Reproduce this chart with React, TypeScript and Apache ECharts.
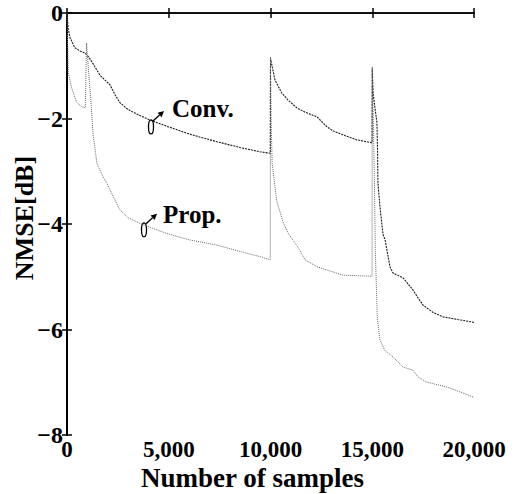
import React, { useEffect, useRef } from "react";
import * as echarts from "echarts";

const xTicks = [0, 5000, 10000, 15000, 20000];
const yTicks = [0, -2, -4, -6, -8];

const convCurve: [number, number][] = [
  [0, 0], [60, -0.3], [150, -0.47], [390, -0.66], [640, -0.72], [880, -0.76], [1000, -0.8],
  [1230, -0.93], [1620, -1.18], [2110, -1.36], [2360, -1.55], [2600, -1.7], [3000, -1.83],
  [3500, -1.93], [4080, -2.03], [5000, -2.16], [5900, -2.28], [6600, -2.36], [7370, -2.44],
  [8500, -2.55], [9480, -2.63], [9990, -2.66],
  [10000, -0.86], [10220, -1.27], [10560, -1.52], [10860, -1.65], [11300, -1.8], [11700, -1.88],
  [12290, -1.97], [12780, -2.16], [13100, -2.24], [13560, -2.31], [14200, -2.4], [14990, -2.46],
  [15000, -1.05], [15040, -1.52], [15230, -2.08], [15260, -2.6], [15280, -3.22], [15380, -3.68],
  [15530, -4.2], [15630, -4.3], [15720, -4.49], [15870, -4.81], [16020, -4.93], [16510, -5.02],
  [17000, -5.25], [17250, -5.4], [17500, -5.54], [18000, -5.68], [18480, -5.76], [19200, -5.81],
  [19950, -5.86], [20000, -5.87],
];

const propCurve: [number, number][] = [
  [0, 0], [30, -0.6], [60, -1.12], [230, -1.42], [470, -1.69], [700, -1.77], [900, -1.8],
  [960, -0.57], [1080, -1.2], [1180, -1.7], [1280, -2.3], [1470, -2.85], [1700, -3.05],
  [1960, -3.23], [2300, -3.5], [2600, -3.73], [3000, -3.88], [3590, -3.99], [4200, -4.08],
  [4910, -4.18], [6000, -4.3], [7370, -4.4], [8500, -4.52], [9500, -4.62], [9990, -4.68],
  [10000, -0.83], [10030, -2.0], [10080, -2.84], [10300, -3.55], [10610, -3.96], [10860, -4.17],
  [11350, -4.44], [11700, -4.68], [12290, -4.81], [13000, -4.9], [13560, -4.97], [14990, -4.99],
  [15000, -1.02], [15100, -3.0], [15150, -4.5], [15250, -5.8], [15380, -6.2], [15620, -6.4],
  [16020, -6.52], [16510, -6.71], [17000, -6.77], [17250, -6.9], [17690, -7.0], [18670, -7.09],
  [19300, -7.18], [19950, -7.28], [20000, -7.29],
];

const seriesNames = ["Conv.", "Prop."];
const annotationAnchors: [number, number][] = [[4128, -2.16], [3784, -4.11]];

const FONT = "Liberation Serif";

export default function App() {
  const ref = useRef<HTMLDivElement>(null);
  useEffect(() => {
    if (!ref.current) return;
    const chart = echarts.init(ref.current, null, { renderer: "svg" });
    const fmtX = (v: number) => v.toLocaleString("en-US");
    const fmtY = (v: number) => String(v).replace("-", "\u2212");
    const labelStyle = { fontFamily: FONT, fontWeight: "bold", fontSize: 23, color: "#000", lineHeight: 23 };
    const lineBase = { color: "#000", width: 1.5 };
    chart.setOption({
      animation: false,
      backgroundColor: "#fff",
      grid: { left: 67, right: 45, top: 13, bottom: 59, containLabel: false, outerBoundsMode: "none" },
      xAxis: [
        {
          type: "value", min: xTicks[0], max: xTicks[xTicks.length - 1], interval: 5000,
          position: "bottom",
          axisLine: { lineStyle: lineBase },
          axisTick: { inside: true, length: 5, lineStyle: lineBase },
          axisLabel: { ...labelStyle, margin: 3, formatter: fmtX },
          splitLine: { show: false },
          name: "Number of samples", nameLocation: "middle", nameGap: 29, nameMoveOverlap: false,
          nameTextStyle: { fontFamily: FONT, fontWeight: "bold", fontSize: 27, lineHeight: 27, color: "#000", padding: [0, 36, 0, 0] },
        },
        {
          type: "value", min: xTicks[0], max: xTicks[xTicks.length - 1], interval: 5000,
          position: "top",
          axisLine: { lineStyle: lineBase },
          axisTick: { inside: true, length: 5, lineStyle: lineBase },
          axisLabel: { show: false },
          splitLine: { show: false },
        },
      ],
      yAxis: [
        {
          type: "value", min: yTicks[yTicks.length - 1], max: yTicks[0], interval: 2,
          position: "left",
          axisLine: { lineStyle: { color: "#000", width: 2 } },
          axisTick: { inside: true, length: 5, lineStyle: lineBase },
          axisLabel: { ...labelStyle, fontSize: 24, margin: 4, formatter: fmtY },
          splitLine: { show: false },
          name: "NMSE[dB]", nameLocation: "middle", nameGap: 30, nameMoveOverlap: false,
          nameTextStyle: { fontFamily: FONT, fontWeight: "bold", fontSize: 26, color: "#000", padding: [0, 0, 0, 12] },
        },
        {
          type: "value", min: yTicks[yTicks.length - 1], max: yTicks[0], interval: 2,
          position: "right",
          axisLine: { lineStyle: lineBase },
          axisTick: { inside: true, length: 5, lineStyle: lineBase },
          axisLabel: { show: false },
          splitLine: { show: false },
        },
      ],
      series: [
        {
          name: seriesNames[0], type: "line", data: convCurve, showSymbol: false,
          xAxisIndex: 0, yAxisIndex: 0,
          lineStyle: { color: "#1a1a1a", width: 1.1, type: [2, 1] },
        },
        {
          name: seriesNames[1], type: "line", data: propCurve, showSymbol: false,
          xAxisIndex: 0, yAxisIndex: 0,
          lineStyle: { color: "#6a6a6a", width: 1, type: [1, 1] },
        },
      ],
    });

    const elements: any[] = [];
    annotationAnchors.forEach((a, i) => {
      const p = chart.convertToPixel({ gridIndex: 0 }, a) as number[];
      const [cx, cy] = p;
      const x1 = cx + 2, y1 = cy - 6, x2 = cx + 13, y2 = cy - 16;
      const ang = Math.atan2(y2 - y1, x2 - x1);
      const hl = 6, hw = 3;
      const bx = x2 - hl * Math.cos(ang), by = y2 - hl * Math.sin(ang);
      elements.push(
        { type: "ellipse", shape: { cx, cy, rx: 2.5, ry: 7 }, style: { fill: "none", stroke: "#000", lineWidth: 1.3 } },
        { type: "line", shape: { x1, y1, x2: bx, y2: by }, style: { stroke: "#000", lineWidth: 1.3 } },
        {
          type: "polygon",
          shape: {
            points: [
              [x2, y2],
              [bx + hw * Math.sin(ang), by - hw * Math.cos(ang)],
              [bx - hw * Math.sin(ang), by + hw * Math.cos(ang)],
            ],
          },
          style: { fill: "#000" },
        },
        {
          type: "text", x: cx + (i === 0 ? 21 : 19), y: cy - (i === 0 ? 18 : 15),
          style: {
            text: seriesNames[i], fontFamily: FONT, fontWeight: "bold", fontSize: 25,
            fill: "#000", align: "left", verticalAlign: "middle",
          },
        },
      );
    });
    chart.setOption({ graphic: elements });
    return () => chart.dispose();
  }, []);
  return <div ref={ref} style={{ position: "absolute", left: 0, top: 0, width: 519, height: 494 }} />;
}
